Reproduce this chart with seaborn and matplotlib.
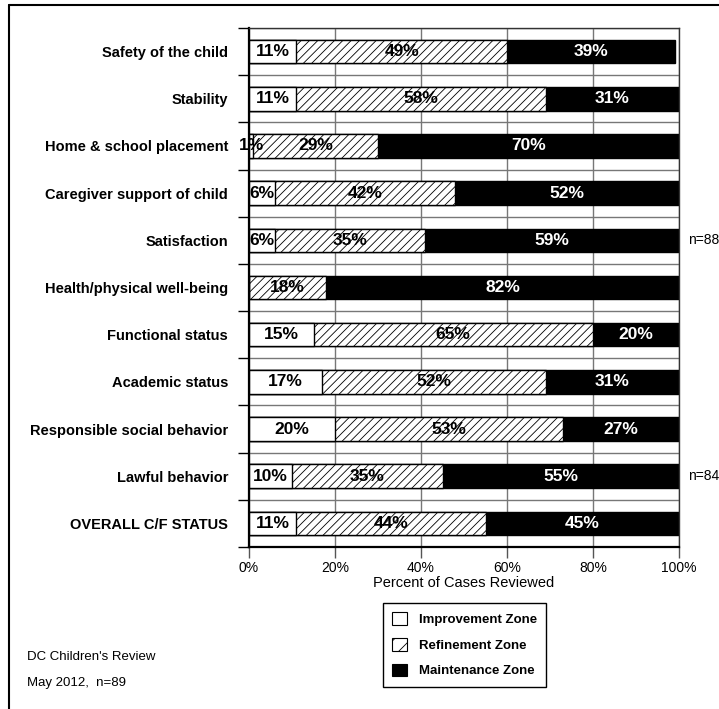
import numpy as np
import pandas as pd
import seaborn as sns
import matplotlib.pyplot as plt
from matplotlib.patches import Patch
from matplotlib.lines import Line2D

categories = ['Safety of the child', 'Stability', 'Home & school placement',
              'Caregiver support of child', 'Satisfaction', 'Health/physical well-being',
              'Functional status', 'Academic status', 'Responsible social behavior',
              'Lawful behavior', 'OVERALL C/F STATUS']
improvement = [11, 11, 1, 6, 6, 0, 15, 17, 20, 10, 11]
refinement = [49, 58, 29, 42, 35, 18, 65, 52, 53, 35, 44]
maintenance = [39, 31, 70, 52, 59, 82, 20, 31, 27, 55, 45]
n_notes = {'Satisfaction': 'n=88', 'Lawful behavior': 'n=84'}
x_ticks = [0, 20, 40, 60, 80, 100]

sns.set_style('white')
plt.rcParams['font.family'] = ['Liberation Sans', 'DejaVu Sans']
plt.rcParams['hatch.linewidth'] = 0.6
for key in ['text.color', 'axes.labelcolor', 'xtick.color', 'ytick.color']:
    plt.rcParams[key] = 'black'

df = pd.DataFrame({'category': categories, 'imp': improvement,
                   'ref': refinement, 'mai': maintenance})
df['cum_imp'] = df['imp']
df['cum_ref'] = df['imp'] + df['ref']
df['cum_mai'] = df['imp'] + df['ref'] + df['mai']

fig = plt.figure(figsize=(7.19, 7.09), dpi=100)
ax = fig.add_axes([249 / 719, 1 - 547 / 709, 430 / 719, 519 / 709])

# stacked by overlaying cumulative bars, longest first
sns.barplot(data=df, x='cum_mai', y='category', orient='h', color='black',
            saturation=1, edgecolor='black', linewidth=1, width=0.5, ax=ax)
sns.barplot(data=df, x='cum_ref', y='category', orient='h', color='white',
            saturation=1, edgecolor='black', linewidth=1, width=0.5, hatch='////',
            ax=ax)
sns.barplot(data=df, x='cum_imp', y='category', orient='h', color='white',
            saturation=1, edgecolor='black', linewidth=1, width=0.5, ax=ax)

# segment labels
lab_kw = dict(ha='center', va='center', fontsize=12.5, fontweight='bold')
for i, row in df.iterrows():
    if row['imp'] > 0:
        ax.text(row['imp'] / 2, i, f"{row['imp']}%", color='black', **lab_kw)
    ax.text(row['imp'] + row['ref'] / 2, i, f"{row['ref']}%", color='black', **lab_kw)
    ax.text(row['cum_ref'] + row['mai'] / 2, i, f"{row['mai']}%", color='white', **lab_kw)
    if row['category'] in n_notes:
        ax.text(1.02, i, n_notes[row['category']], transform=ax.get_yaxis_transform(),
                ha='left', va='center', fontsize=10)

ax.set_xlim(0, 100)
ax.set_ylim(len(categories) - 0.5, -0.5)
ax.set_xticks(x_ticks)
ax.set_xticklabels([f'{t}%' for t in x_ticks], fontsize=10)
ax.set_yticks(range(len(categories)))
ax.set_yticklabels(categories, fontsize=10.5, fontweight='bold')
ax.set_yticks(np.arange(-0.5, len(categories), 1), minor=True)
ax.tick_params(axis='y', which='major', length=0, pad=15)
ax.tick_params(axis='y', which='minor', length=8, width=1, color='black', left=True)
ax.tick_params(axis='x', which='major', length=8, width=1, color='#555555', bottom=True, pad=2)
ax.set_axisbelow(True)
ax.grid(True, axis='x', which='major', color='#777777', linewidth=1)
ax.grid(True, axis='y', which='minor', color='#777777', linewidth=1)
ax.grid(False, axis='y', which='major')
ax.set_xlabel('Percent of Cases Reviewed', fontsize=10.5, labelpad=1)
ax.set_ylabel('')
for side in ['top', 'right']:
    ax.spines[side].set_color('#333333')
    ax.spines[side].set_linewidth(1)
for side in ['left', 'bottom']:
    ax.spines[side].set_color('black')
    ax.spines[side].set_linewidth(1.6)

handles = [Patch(facecolor='white', edgecolor='black', linewidth=0.8),
           Patch(facecolor='white', edgecolor='black', linewidth=0.8, hatch='//'),
           Patch(facecolor='black', edgecolor='black', linewidth=0.8)]
leg = fig.legend(handles, ['Improvement Zone', 'Refinement Zone', 'Maintenance Zone'],
                 loc='upper left', bbox_to_anchor=(383 / 719, 1 - 603 / 709),
                 frameon=True, fancybox=False, edgecolor='black', framealpha=1,
                 prop={'weight': 'bold', 'size': 9.5}, handlelength=1.1,
                 handleheight=1.1, labelspacing=0.9, handletextpad=0.9,
                 borderpad=0.7, borderaxespad=0)
leg.get_frame().set_linewidth(1)

fig.text(27 / 719, 1 - 657 / 709, "DC Children's Review", fontsize=9.5, va='center')
fig.text(27 / 719, 1 - 683 / 709, 'May 2012,  n=89', fontsize=9.5, va='center')

# page frame (left and top edges)
fig.add_artist(Line2D([9 / 719, 9 / 719], [0, 1 - 5 / 709], transform=fig.transFigure,
                      color='black', linewidth=1.5))
fig.add_artist(Line2D([9 / 719, 1], [1 - 5 / 709, 1 - 5 / 709], transform=fig.transFigure,
                      color='black', linewidth=1.5))

fig.savefig('out.png', dpi=100)
